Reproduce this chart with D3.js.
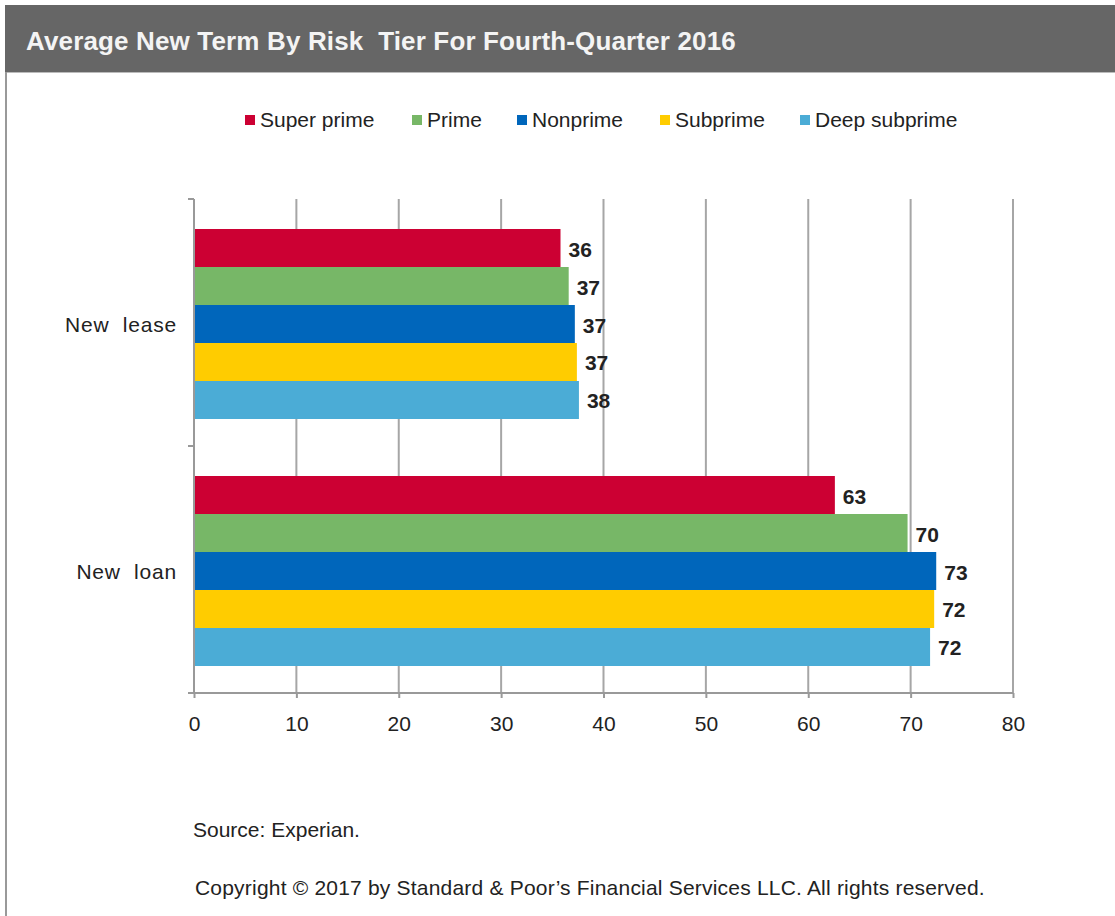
<!DOCTYPE html>
<html>
<head>
<meta charset="utf-8">
<script src="https://cdn.jsdelivr.net/npm/d3@7"></script>
<style>
  body { margin: 0; background: #fff; }
  text { font-family: "Liberation Sans", Arial, sans-serif; }
</style>
</head>
<body>
<script>
var categories = ["New lease", "New loan"];
var tiers = ["Super prime", "Prime", "Nonprime", "Subprime", "Deep subprime"];
var tierColors = ["#CC0033", "#77B767", "#0066BB", "#FFCC00", "#4BACD6"];
var leaseValues = [35.8, 36.6, 37.2, 37.4, 37.6];
var loanValues = [62.6, 69.7, 72.5, 72.3, 71.9];
var leaseLabels = ["36", "37", "37", "37", "38"];
var loanLabels = ["63", "70", "73", "72", "72"];
var xTicks = [0, 10, 20, 30, 40, 50, 60, 70, 80];

var rows = [];
categories.forEach(function(c, ci){
    var vals = ci == 0 ? leaseValues : loanValues;
    var labs = ci == 0 ? leaseLabels : loanLabels;
    tiers.forEach(function(t, ti){
        rows.push({category: c, tier: t, value: vals[ti], label: labs[ti]});
    });
});

var W = 1115, H = 916;
var svg = d3.select("body").append("svg")
    .attr("width", W)
    .attr("height", H);

// title bar + frame
svg.append("rect").attr("x", 5).attr("y", 5).attr("width", W - 5).attr("height", 67)
    .attr("fill", "#666666");
svg.append("line").attr("x1", 5).attr("x2", W).attr("y1", 72.5).attr("y2", 72.5)
    .attr("stroke", "#bbbbbb").attr("stroke-width", 1);
svg.append("line").attr("x1", 6).attr("x2", 6).attr("y1", 72).attr("y2", H)
    .attr("stroke", "#999999").attr("stroke-width", 2);
svg.append("text")
    .attr("x", 26).attr("y", 50)
    .attr("fill", "#f4f4f4")
    .attr("font-size", 26)
    .attr("font-weight", "bold")
    .attr("letter-spacing", 0.15)
    .style("white-space", "pre")
    .text("Average New Term By Risk  Tier For Fourth-Quarter 2016");

// legend
var legendX = [245, 412, 517, 660, 800];
var legend = svg.append("g").selectAll("g")
    .data(tiers)
    .enter()
    .append("g")
    .attr("transform", function(d, i){ return "translate(" + legendX[i] + ",120)"; });
legend.append("rect")
    .attr("x", 0).attr("y", -5).attr("width", 10).attr("height", 10)
    .attr("fill", function(d, i){ return tierColors[i]; });
legend.append("text")
    .attr("x", 15).attr("y", 7)
    .attr("font-size", 21)
    .attr("fill", "#222")
    .text(function(d){ return d; });

// plot
var plotLeft = 194, plotRight = 1013, plotTop = 199, plotBottom = 693;

var xScale = d3.scaleLinear().domain([0, 80]).range([plotLeft, plotRight]);
var yScale = d3.scaleBand().domain(categories).range([plotTop, plotBottom])
    .paddingInner(0.2308).paddingOuter(0.1154);
var ySub = d3.scaleBand().domain(tiers).range([0, yScale.bandwidth()]);
var color = d3.scaleOrdinal().domain(tiers).range(tierColors);

// gridlines
svg.append("g")
    .selectAll("line")
    .data(xTicks.slice(1))
    .enter()
    .append("line")
    .attr("x1", function(d){ return xScale(d); })
    .attr("x2", function(d){ return xScale(d); })
    .attr("y1", plotTop).attr("y2", plotBottom)
    .attr("stroke", "#a6a6a6")
    .attr("stroke-width", 2);

// bars
svg.append("g")
    .selectAll("rect")
    .data(rows)
    .enter()
    .append("rect")
    .attr("x", xScale(0))
    .attr("y", function(d){ return yScale(d.category) + ySub(d.tier) + 1.5; })
    .attr("width", function(d){ return xScale(d.value) - xScale(0); })
    .attr("height", ySub.bandwidth())
    .attr("fill", function(d){ return color(d.tier); });

// value labels
svg.append("g")
    .selectAll("text")
    .data(rows)
    .enter()
    .append("text")
    .attr("x", function(d){ return xScale(d.value) + 8; })
    .attr("y", function(d){ return yScale(d.category) + ySub(d.tier) + ySub.bandwidth() / 2 + 10; })
    .attr("font-size", 21)
    .attr("font-weight", "bold")
    .attr("fill", "#222")
    .text(function(d){ return d.label; });

// x axis
var xAxis = svg.append("g")
    .attr("transform", "translate(0," + plotBottom + ")")
    .call(d3.axisBottom(xScale).tickValues(xTicks).tickSize(5).tickPadding(18));
xAxis.select(".domain").attr("stroke", "#999").attr("stroke-width", 2)
    .attr("d", "M" + (plotLeft - 6) + ",0H" + plotRight);
xAxis.selectAll(".tick line").attr("stroke", "#999").attr("stroke-width", 2);
xAxis.selectAll(".tick text")
    .attr("font-size", 21)
    .attr("font-family", "Liberation Sans, Arial, sans-serif")
    .attr("fill", "#222");

// y axis
var yAxisG = svg.append("g").attr("transform", "translate(" + plotLeft + ",0)");
yAxisG.append("line").attr("x1", 0).attr("x2", 0).attr("y1", plotTop).attr("y2", plotBottom)
    .attr("stroke", "#999").attr("stroke-width", 2);
yAxisG.selectAll(".ytick")
    .data([plotTop, yScale("New loan") - yScale.step() * yScale.paddingInner() / 2, plotBottom])
    .enter()
    .append("line")
    .attr("x1", -6).attr("x2", 0)
    .attr("y1", function(d){ return d; }).attr("y2", function(d){ return d; })
    .attr("stroke", "#999").attr("stroke-width", 2);
yAxisG.selectAll(".ylab")
    .data(categories)
    .enter()
    .append("text")
    .attr("x", -17)
    .attr("y", function(d){ return yScale(d) + yScale.bandwidth() / 2 + 9; })
    .attr("text-anchor", "end")
    .attr("font-size", 21)
    .attr("letter-spacing", 0.8)
    .attr("fill", "#222")
    .style("white-space", "pre")
    .text(function(d){ return d.replace(" ", "  "); });

// footer
svg.append("text").attr("x", 193).attr("y", 837)
    .attr("font-size", 21).attr("fill", "#222")
    .text("Source: Experian.");
svg.append("text").attr("x", 195).attr("y", 895)
    .attr("font-size", 21).attr("fill", "#222")
    .attr("letter-spacing", 0.2)
    .text("Copyright \u00a9 2017 by Standard & Poor\u2019s Financial Services LLC. All rights reserved.");
</script>
</body>
</html>
